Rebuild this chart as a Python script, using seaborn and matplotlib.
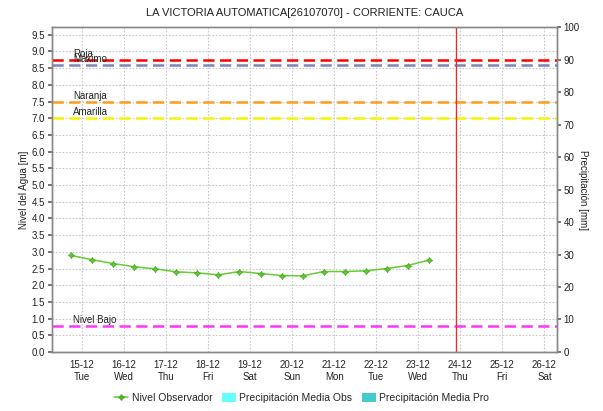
import matplotlib
matplotlib.use("Agg")
import matplotlib.pyplot as plt
import matplotlib.dates as mdates
from matplotlib.lines import Line2D
from matplotlib.patches import Patch
import numpy as np
import pandas as pd
import seaborn as sns

# Observed water level, every 12 hours
obs_start = "2015-12-14 18:00"
nivel_obs = [2.89, 2.76, 2.65, 2.55, 2.49, 2.40, 2.37, 2.31, 2.41, 2.35,
             2.29, 2.28, 2.41, 2.41, 2.43, 2.50, 2.59, 2.75]

# Alert thresholds [m]
umbral_nombres = ["Roja", "Máximo", "Naranja", "Amarilla", "Nivel Bajo"]
umbral_valores = [8.75, 8.60, 7.48, 7.00, 0.78]
umbral_colores = ["#FF0000", "#7A86B8", "#FF9A1A", "#F5F500", "#FF33FF"]

# Current time marker
ahora = "2015-12-23 21:30"

# Axis window
x_ini, x_fin = "2015-12-14 07:00", "2015-12-26 07:00"
dias = pd.date_range("2015-12-15", "2015-12-26", freq="D")
dias_es = {0: "Mon", 1: "Tue", 2: "Wed", 3: "Thu", 4: "Fri", 5: "Sat", 6: "Sun"}

sns.set_theme(style="white")
plt.rcParams["font.family"] = ["Liberation Sans", "DejaVu Sans"]

df = pd.DataFrame({
    "fecha": pd.date_range(obs_start, periods=len(nivel_obs), freq="12h"),
    "nivel": nivel_obs,
})

fig = plt.figure(figsize=(6.03, 4.11), dpi=100)
ax = fig.add_axes([0.0862, 0.1436, 0.8370, 0.7904])
ax2 = ax.twinx()

# Threshold lines and their labels
for nombre, valor, color in zip(umbral_nombres, umbral_valores, umbral_colores):
    ax.axhline(valor, color=color, lw=1.8, dashes=(4.5, 2.2), zorder=3)
    ax.text(0.042, valor + 0.04, nombre, transform=ax.get_yaxis_transform(),
            fontsize=7, color="#222222", va="bottom", ha="left", zorder=4)

sns.lineplot(data=df, x="fecha", y="nivel", ax=ax, color="#66CC33", lw=1.1,
             marker=(4, 1, 0), markersize=4.5, markeredgewidth=0.6,
             markeredgecolor="#44AA22", zorder=5)

ax.axvline(pd.Timestamp(ahora), color="#E03030", lw=1.0, zorder=4)

ax.set_xlim(pd.Timestamp(x_ini), pd.Timestamp(x_fin))
ax.set_ylim(0, 9.73)
ax2.set_ylim(0, 100)

ax.set_yticks(np.arange(0, 9.51, 0.5))
ax.set_yticklabels([f"{v:.1f}" for v in np.arange(0, 9.51, 0.5)])
ax2.set_yticks(np.arange(0, 101, 10))

ax.set_xticks(dias)
ax.set_xticklabels([f"{d.strftime('%d-%m')}\n{dias_es[d.dayofweek]}" for d in dias])
ax.xaxis.set_minor_locator(mdates.HourLocator())

ax.grid(True, which="major", color="#C8C8C8", ls=(0, (1.5, 1.5)), lw=0.8)
ax.set_axisbelow(True)

for a in (ax, ax2):
    for s in a.spines.values():
        s.set_color("#888888")
        s.set_linewidth(1.0)
ax.tick_params(axis="x", which="major", length=3, color="#666666",
               labelsize=7, pad=3, labelcolor="#222222")
ax.tick_params(axis="x", which="minor", length=1.5, color="#666666", width=0.6)
ax.tick_params(axis="y", length=3, color="#666666", labelsize=7, pad=2,
               labelcolor="#222222")
ax2.tick_params(axis="y", length=3, color="#666666", labelsize=7, pad=2,
                labelcolor="#222222")

ax.set_xlabel("")
ax.set_ylabel("Nivel del Agua [m]", fontsize=7, color="#222222", labelpad=2)
ax2.set_ylabel("Precipitación [mm]", fontsize=7, color="#222222",
               rotation=270, labelpad=6)

ax.set_title("LA VICTORIA AUTOMATICA[26107070] - CORRIENTE: CAUCA",
             fontsize=8, color="#222222", pad=8)

handles = [
    Line2D([], [], color="#66CC33", lw=1.1, marker=(4, 1, 0), markersize=4,
           markeredgecolor="#44AA22"),
    Patch(facecolor="#66FFFF", edgecolor="none"),
    Patch(facecolor="#44CCCC", edgecolor="none"),
]
labels = ["Nivel Observador", "Precipitación Media Obs", "Precipitación Media Pro"]
fig.legend(handles, labels, loc="center", bbox_to_anchor=(0.5, 0.031), ncol=3,
           frameon=False, fontsize=7.5, handlelength=1.4, handletextpad=0.3,
           columnspacing=0.9, handleheight=1.0)

fig.savefig("out.png", dpi=100)
